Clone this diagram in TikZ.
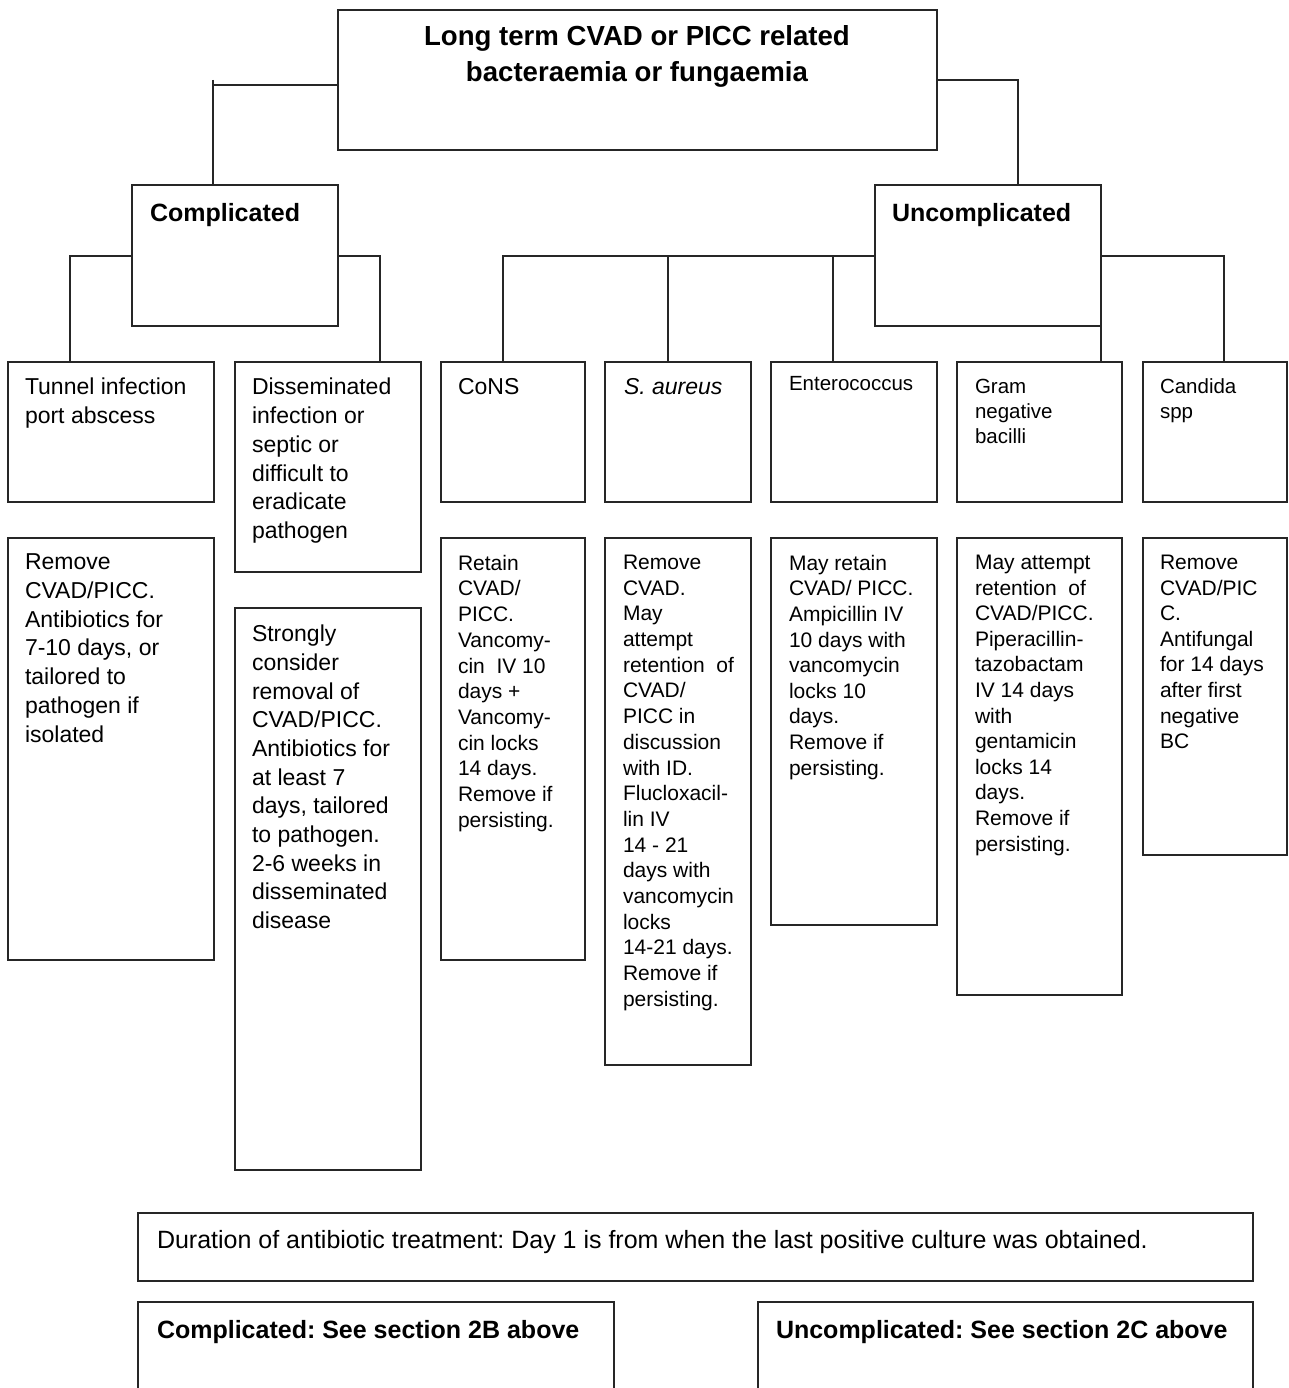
\documentclass[tikz,border=0pt]{standalone}
\usepackage{fontspec}
\setmainfont{Liberation Sans}
\usetikzlibrary{calc}
\frenchspacing
\tikzset{
  box/.style={draw=black!85, line width=1.3pt, inner sep=0pt, outer sep=0pt, anchor=north west, fill=none},
  txt/.style={anchor=north west, inner sep=0pt, outer sep=0pt, align=left, text=black},
  link/.style={draw=black!85, line width=1.3pt},
  fbig/.style={font=\fontsize{27.6}{36}\selectfont\bfseries},
  fhead/.style={font=\fontsize{25}{30}\selectfont\bfseries},
  fa/.style={font=\fontsize{23}{28.7}\selectfont},
  fb/.style={font=\fontsize{21}{25.7}\selectfont},
  fc/.style={font=\fontsize{20.5}{25}\selectfont},
}
\newcommand{\bx}[5]{\node[box, minimum width=#4pt, minimum height=#5pt] (#1) at (#2,-#3) {};}
\begin{document}
\frenchspacing
\begin{tikzpicture}[x=1pt,y=1pt]
\useasboundingbox (0,0) rectangle (1288,-1388);
\fill[white] (0,0) rectangle (1288,-1388);
% boxes
\bx{top}{338}{10}{599}{140}
\bx{comp}{132}{185}{206}{141}
\bx{unc}{875}{185}{226}{141}
\bx{tun}{8}{362}{206}{140}
\bx{dis}{235}{362}{186}{210}
\bx{cons}{441}{362}{144}{140}
\bx{sa}{605}{362}{146}{140}
\bx{ent}{771}{362}{166}{140}
\bx{gram}{957}{362}{165}{140}
\bx{can}{1143}{362}{144}{140}
\bx{ta}{8}{538}{206}{422}
\bx{tb}{235}{608}{186}{562}
\bx{tc}{441}{538}{144}{422}
\bx{td}{605}{538}{146}{527}
\bx{te}{771}{538}{166}{387}
\bx{tf}{957}{538}{165}{457}
\bx{tg}{1143}{538}{144}{317}
\bx{dur}{138}{1213}{1115}{68}
\bx{bc}{138}{1302}{476}{130}
\bx{bu}{758}{1302}{495}{130}
% texts
\node[txt, fbig, anchor=north, align=center] (ttop) at (637,-26) {Long term CVAD or PICC related\\bacteraemia or fungaemia};
\node[txt, fhead] (tcomp) at (150,-203) {Complicated};
\node[txt, fhead] (tunc) at (892,-203) {Uncomplicated};
\node[txt, fa] (xtun) at (25,-378) {Tunnel infection\\port abscess};
\node[txt, fa, font=\fontsize{23}{28.8}\selectfont] (xdis) at (252,-378) {Disseminated\\infection or\\septic or\\difficult to\\eradicate\\pathogen};
\node[txt, fa] (xcons) at (458,-378) {CoNS};
\node[txt, fa, font=\fontsize{23}{28.7}\selectfont\itshape] (xsa) at (624,-378) {S. aureus};
\node[txt, fc] (xent) at (789,-376) {Enterococcus};
\node[txt, fc] (xgram) at (975,-379) {Gram\\negative\\bacilli};
\node[txt, fc] (xcan) at (1160,-379) {Candida\\spp};
\node[txt, fa] (yta) at (25,-554) {Remove\\CVAD/PICC.\\Antibiotics for\\7-10 days, or\\tailored to\\pathogen if\\isolated};
\node[txt, fa] (ytb) at (252,-625) {Strongly\\consider\\removal of\\CVAD/PICC.\\Antibiotics for\\at least 7\\days, tailored\\to pathogen.\\2-6 weeks in\\disseminated\\disease};
\node[txt, fb] (ytc) at (458,-555) {Retain\\CVAD/\\PICC.\\Vancomy-\\cin\ \ IV 10\\days +\\Vancomy-\\cin locks\\14 days.\\Remove if\\persisting.};
\node[txt, fb] (ytd) at (623,-555) {Remove\\CVAD.\\May\\attempt\\retention\ \ of\\CVAD/\\PICC in\\discussion\\with ID.\\Flucloxacil-\\lin IV\\14 - 21\\days with\\vancomycin\\locks\\14-21 days.\\Remove if\\persisting.};
\node[txt, fb, font=\fontsize{21}{25.6}\selectfont] (yte) at (789,-555) {May retain\\CVAD/ PICC.\\Ampicillin IV\\10 days with\\vancomycin\\locks 10\\days.\\Remove if\\persisting.};
\node[txt, fb, font=\fontsize{21}{25.6}\selectfont] (ytf) at (975,-555) {May attempt\\retention\ \ of\\CVAD/PICC.\\Piperacillin-\\tazobactam\\IV 14 days\\with\\gentamicin\\locks 14\\days.\\Remove if\\persisting.};
\node[txt, fb, font=\fontsize{21}{25.6}\selectfont] (ytg) at (1160,-555) {Remove\\CVAD/PIC\\C.\\Antifungal\\for 14 days\\after first\\negative\\BC};
\node[txt, font=\fontsize{25}{30}\selectfont] (zdur) at (157,-1230) {Duration of antibiotic treatment: Day 1 is from when the last positive culture was obtained.};
\node[txt, fhead] (zbc) at (157,-1320) {Complicated: See section 2B above};
\node[txt, fhead] (zbu) at (776,-1320) {Uncomplicated: See section 2C above};
% connectors
\coordinate (tick) at (213,-80);
\draw[link] ([yshift=-75pt]top.north west) -| ([xshift=-22pt]comp.north);
\draw[link] (tick) -- ++(0,-6);
\draw[link] ([yshift=-70pt]top.north east) -| ([xshift=30pt]unc.north);
\draw[link] ([yshift=-71pt]comp.north west) -| ([xshift=-41pt]tun.north);
\draw[link] ([yshift=-71pt]comp.north east) -| ([xshift=52pt]dis.north);
\coordinate (ubar) at ([yshift=-71pt]unc.north west);
\draw[link] (ubar) -| ([xshift=-10pt]cons.north);
\draw[link] ([xshift=-10pt]sa.north) -- ([xshift=-10pt]sa.north |- ubar);
\draw[link] ([xshift=-21pt]ent.north) -- ([xshift=-21pt]ent.north |- ubar);
\draw[link] (unc.south east) -- (unc.south east |- gram.north);
\draw[link] ([yshift=-71pt]unc.north east) -| ([xshift=9pt]can.north);
\end{tikzpicture}
\end{document}
